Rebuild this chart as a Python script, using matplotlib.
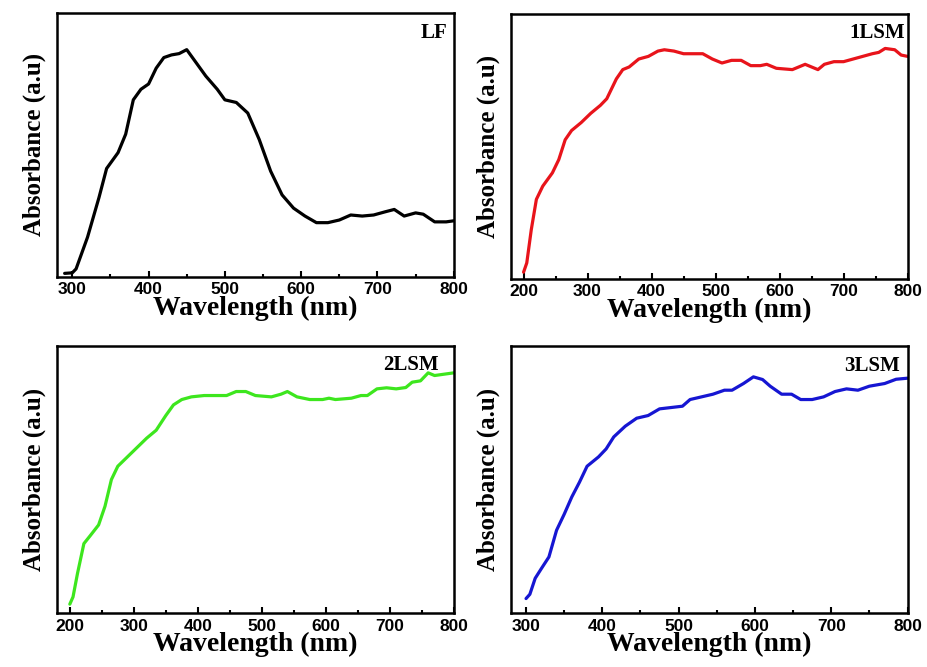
#UV-Vis absorbance spectra of LF and the 1LSM, 2LSM, 3LSM samples
#Four panels, arbitrary absorbance units
import numpy as np
import matplotlib.pyplot as plt
from matplotlib.ticker import MultipleLocator

#Data (wavelength in nm, absorbance in a.u.)
lf_wl = [290, 300, 305, 320, 335, 345, 360, 370, 380, 390, 400, 410, 420, 430, 440, 450,
         460, 475, 490, 500, 515, 530, 545, 560, 575, 590, 605, 620, 635, 650, 665, 680,
         695, 710, 722, 735, 750, 760, 775, 790, 800]
lf_abs = [0.013, 0.015, 0.03, 0.15, 0.30, 0.41, 0.47, 0.54, 0.67, 0.71, 0.73, 0.79, 0.83,
          0.84, 0.845, 0.86, 0.82, 0.76, 0.71, 0.67, 0.66, 0.62, 0.52, 0.40, 0.31, 0.26,
          0.23, 0.205, 0.205, 0.215, 0.234, 0.23, 0.234, 0.246, 0.255, 0.23, 0.242, 0.237,
          0.208, 0.208, 0.212]

lsm1_wl = [200, 205, 212, 220, 230, 245, 255, 265, 275, 290, 305, 320, 330, 345, 355, 365,
           380, 395, 410, 420, 435, 450, 480, 495, 510, 525, 540, 555, 570, 580, 595, 620,
           630, 640, 660, 670, 685, 700, 715, 730, 745, 755, 765, 780, 790, 800]
lsm1_abs = [0.025, 0.06, 0.185, 0.30, 0.35, 0.40, 0.45, 0.525, 0.56, 0.59, 0.625, 0.655,
            0.68, 0.755, 0.79, 0.80, 0.83, 0.84, 0.86, 0.865, 0.86, 0.85, 0.85, 0.83, 0.815,
            0.825, 0.825, 0.805, 0.805, 0.81, 0.795, 0.79, 0.80, 0.81, 0.79, 0.81, 0.82,
            0.82, 0.83, 0.84, 0.85, 0.855, 0.87, 0.865, 0.845, 0.84]

lsm2_wl = [200, 205, 212, 222, 232, 245, 255, 265, 275, 290, 305, 320, 335, 350, 362, 375,
           390, 410, 445, 460, 475, 490, 515, 530, 540, 555, 575, 595, 605, 615, 640, 655,
           665, 680, 695, 710, 725, 735, 748, 760, 770, 785, 800]
lsm2_abs = [0.033, 0.06, 0.148, 0.26, 0.29, 0.33, 0.40, 0.50, 0.55, 0.585, 0.62, 0.655,
            0.685, 0.74, 0.78, 0.80, 0.81, 0.815, 0.815, 0.83, 0.83, 0.815, 0.81, 0.82, 0.83,
            0.81, 0.80, 0.80, 0.805, 0.80, 0.805, 0.815, 0.815, 0.84, 0.844, 0.84, 0.845,
            0.865, 0.87, 0.90, 0.89, 0.895, 0.90]

lsm3_wl = [300, 305, 312, 320, 330, 340, 350, 360, 370, 380, 395, 405, 415, 430, 445, 460,
           475, 490, 505, 515, 530, 545, 560, 570, 585, 598, 610, 620, 635, 648, 660, 675,
           690, 705, 720, 735, 750, 770, 785, 800]
lsm3_abs = [0.054, 0.07, 0.13, 0.166, 0.21, 0.31, 0.37, 0.435, 0.49, 0.55, 0.585, 0.615,
            0.66, 0.70, 0.73, 0.74, 0.765, 0.77, 0.775, 0.80, 0.81, 0.82, 0.835, 0.835, 0.86,
            0.885, 0.875, 0.85, 0.82, 0.82, 0.80, 0.80, 0.81, 0.83, 0.84, 0.835, 0.85, 0.86,
            0.876, 0.88]

names = ["LF", "1LSM", "2LSM", "3LSM"]
colors = ["black", "#e8141b", "#3de61e", "#1616d2"]
xlims = [(280, 800), (180, 800), (180, 800), (280, 800)]

#Axes boxes [left, bottom, width, height] in figure fractions
boxes = [[0.0615, 0.585, 0.428, 0.396],
         [0.551, 0.582, 0.428, 0.397],
         [0.0615, 0.081, 0.428, 0.400],
         [0.551, 0.081, 0.428, 0.400]]
#where each panel name sits (axes fraction of its right/top corner)
name_pos = [(0.985, 0.96), (0.993, 0.965), (0.962, 0.968), (0.98, 0.965)]

fig = plt.figure(figsize=(9.27, 6.67), dpi=100)

data = [(lf_wl, lf_abs), (lsm1_wl, lsm1_abs), (lsm2_wl, lsm2_abs), (lsm3_wl, lsm3_abs)]
for i in range(4):
    ax = fig.add_axes(boxes[i])
    wl, ab = data[i]
    ax.plot(wl, ab, color=colors[i], linewidth=2.3, solid_joinstyle="round",
            solid_capstyle="round")
    ax.set_xlim(xlims[i])
    ax.set_ylim(0, 1)
    ax.set_yticks([])
    ax.xaxis.set_major_locator(MultipleLocator(100))
    ax.xaxis.set_minor_locator(MultipleLocator(50))
    ax.tick_params(axis="x", which="major", direction="in", length=4, width=1.5, pad=4)
    ax.tick_params(axis="x", which="minor", direction="in", length=2.5, width=1.5)
    for lab in ax.get_xticklabels():
        lab.set_fontfamily("Liberation Sans")
        lab.set_fontweight("bold")
        lab.set_fontsize(12.5)
    for sp in ax.spines.values():
        sp.set_linewidth(1.8)
    ax.set_xlabel("Wavelength (nm)", family="Liberation Serif", weight="bold",
                  fontsize=20, labelpad=-1)
    ax.set_ylabel("Absorbance (a.u)", family="Liberation Serif", weight="bold",
                  fontsize=18, labelpad=8)
    ax.text(name_pos[i][0], name_pos[i][1], names[i], transform=ax.transAxes,
            ha="right", va="top", family="Liberation Serif", weight="bold", fontsize=15)

fig.savefig("out.png", dpi=100)
